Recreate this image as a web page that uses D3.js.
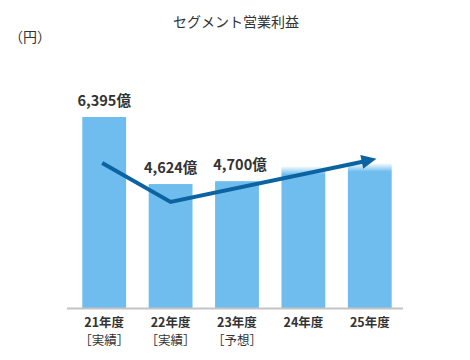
<!DOCTYPE html>
<html><head><meta charset="utf-8">
<script src="https://cdn.jsdelivr.net/npm/d3@7"></script>
<style>
html,body{margin:0;padding:0;background:#fff;}
svg{display:block;font-family:"Noto Sans CJK JP","Noto Sans",sans-serif;}
</style></head>
<body><svg id="c" width="470" height="360"></svg>
<script>
const categories = ["21年度","22年度","23年度","24年度","25年度"];
const subLabels = ["［実績］","［実績］","［予想］","",""];
const values = [6395, 4624, 4700, 5100, 5180];
const valueLabels = ["6,395億","4,624億","4,700億","",""];
const faded = [false,false,false,true,true];
// trend arrow: [category position, value]
const trendX = [-0.03, 1.0, 4.1];
const trendY = [5180, 4150, 5290];

const svg = d3.select("#c");
const x = d3.scaleBand().domain(d3.range(categories.length)).range([71, 403]).paddingInner(0.34).paddingOuter(0.17);
const y = d3.scaleLinear().domain([1350, 6395]).range([308, 117]);
const xc = i => x(0) + x.step()*i + x.bandwidth()/2;

const defs = svg.append("defs");
const g = defs.append("linearGradient").attr("id","fade").attr("x1",0).attr("y1",0).attr("x2",0).attr("y2",1)
  .attr("gradientUnits","objectBoundingBox");
g.append("stop").attr("offset","0").attr("stop-color","#6fbdee").attr("stop-opacity",0);
g.append("stop").attr("offset","0.06").attr("stop-color","#6fbdee").attr("stop-opacity",1);
g.append("stop").attr("offset","1").attr("stop-color","#6fbdee").attr("stop-opacity",1);

svg.append("text").attr("x",236).attr("y",27).attr("text-anchor","middle")
  .attr("font-size",14).attr("fill","#333").text("セグメント営業利益");
svg.append("text").attr("x",9).attr("y",42).attr("font-size",14).attr("fill","#333").text("（円）");

svg.selectAll("rect.bar").data(values).join("rect").attr("class","bar")
  .attr("x",(d,i)=>x(i)).attr("width",x.bandwidth())
  .attr("y",d=>y(d)).attr("height",d=>y.range()[0]-y(d))
  .attr("fill",(d,i)=>faded[i]?"url(#fade)":"#6fbdee");

svg.append("line").attr("x1",67).attr("x2",403).attr("y1",308.5).attr("y2",308.5)
  .attr("stroke","#c4c4c4").attr("stroke-width",2);

svg.selectAll("text.val").data(values).join("text").attr("class","val")
  .attr("x",(d,i)=>xc(i)+ (i==2?3:0)).attr("y",d=>y(d)-11)
  .attr("text-anchor","middle").attr("font-size",14.5).attr("font-weight","bold").attr("fill","#333")
  .text((d,i)=>valueLabels[i]);

svg.selectAll("text.cat").data(categories).join("text").attr("class","cat")
  .attr("x",(d,i)=>xc(i)).attr("y",327).attr("text-anchor","middle")
  .attr("font-size",12.5).attr("font-weight","bold").attr("fill","#333").text(d=>d);
svg.selectAll("text.sub").data(subLabels).join("text").attr("class","sub")
  .attr("x",(d,i)=>xc(i)).attr("y",345).attr("text-anchor","middle")
  .attr("font-size",12.5).attr("fill","#333").text(d=>d);

// trend arrow
const pts = trendX.map((t,i)=>[xc(0)+t*x.step(), y(trendY[i])]);
const n = pts.length;
const [px,py] = pts[n-2], [tx,ty] = pts[n-1];
const ang = Math.atan2(ty-py, tx-px);
const headLen = 15, headW = 7;
const bx = tx - headLen*Math.cos(ang), by = ty - headLen*Math.sin(ang);
const linePts = pts.slice(0,n-1).concat([[bx+2*Math.cos(ang), by+2*Math.sin(ang)]]);
svg.append("path").attr("d", d3.line()(linePts)).attr("fill","none")
  .attr("stroke","#0b64a1").attr("stroke-width",4).attr("stroke-linejoin","miter");
svg.append("path").attr("d", d3.line()([[tx,ty],
  [bx - headW*Math.sin(ang), by + headW*Math.cos(ang)],
  [bx + headW*Math.sin(ang), by - headW*Math.cos(ang)]]) + "Z").attr("fill","#0b64a1");
</script></body></html>
